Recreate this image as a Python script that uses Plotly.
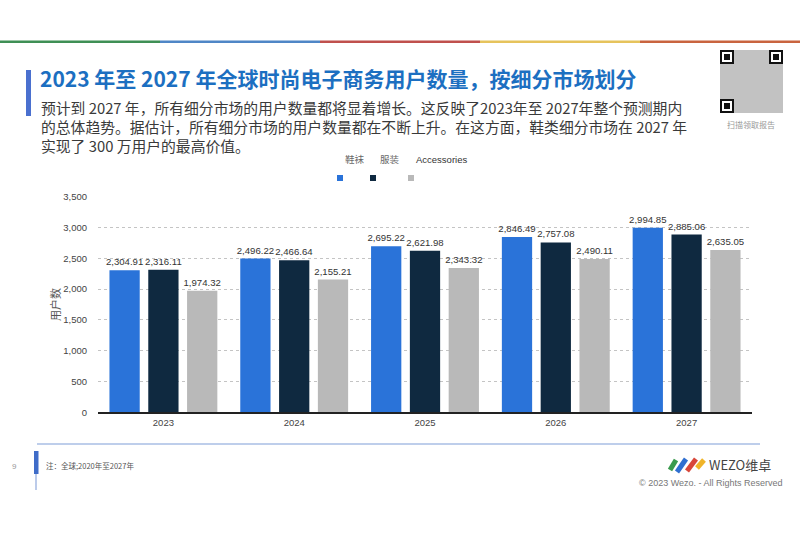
import plotly.graph_objects as go

# ---------------- data ----------------
years = ["2023", "2024", "2025", "2026", "2027"]
series_names = ["鞋袜", "服装", "Accessories"]
footwear = [2304.91, 2496.22, 2695.22, 2846.49, 2994.85]
apparel = [2316.11, 2466.64, 2621.98, 2757.08, 2885.06]
accessories = [1974.32, 2155.21, 2343.32, 2490.11, 2635.05]
series_values = [footwear, apparel, accessories]
series_colors = ["#2a73d9", "#0f2940", "#b9b9b9"]
y_ticks = [0, 500, 1000, 1500, 2000, 2500, 3000, 3500]

title_text = "2023 年至 2027 年全球时尚电子商务用户数量，按细分市场划分"
subtitle_lines = [
    "预计到 2027 年，所有细分市场的用户数量都将显着增长。这反映了2023年至 2027年整个预测期内",
    "的总体趋势。据估计，所有细分市场的用户数量都在不断上升。在这方面，鞋类细分市场在 2027 年",
    "实现了 300 万用户的最高价值。",
]
y_title = "用户数"
note_text = "注：全球;2020年至2027年"
page_no = "9"
copyright_text = "© 2023 Wezo. - All Rights Reserved"
qr_caption = "扫描领取报告"

W, H = 800, 533
def px(x):
    return x / W
def py(y):
    return 1 - y / H

FONT = "Liberation Sans, Arial, Noto Sans CJK SC, sans-serif"
CJK = "Noto Sans CJK SC, sans-serif"

fig = go.Figure()
for name, vals, col in zip(series_names, series_values, series_colors):
    fig.add_trace(go.Bar(
        name=name, x=years, y=vals, marker=dict(color=col, line=dict(width=0)),
        text=[f"{v:,.2f}" for v in vals], textposition="outside", constraintext="none",
        textfont=dict(size=9.6, color="#333333", family=FONT),
        cliponaxis=False, showlegend=False,
    ))

shapes = []
annotations = []

# top colour band
band_cols = ["#3f8f55", "#4f86c6", "#c0504d", "#e6c35c", "#c9643f"]
for i, c in enumerate(band_cols):
    shapes.append(dict(type="rect", xref="paper", yref="paper",
                       x0=px(i * 160), x1=px((i + 1) * 160), y0=py(43), y1=py(40.5),
                       fillcolor=c, line=dict(width=0), layer="above"))

# title accent bar
shapes.append(dict(type="rect", xref="paper", yref="paper", x0=px(26), x1=px(31),
                   y0=py(116), y1=py(70), fillcolor="#4a70cf", line=dict(width=0)))

annotations.append(dict(text="<b>" + title_text + "</b>", x=px(38), y=py(78), xref="paper", yref="paper",
                        xanchor="left", yanchor="middle", showarrow=False,
                        font=dict(size=21, color="#1c6fc1", family=CJK)))
for i, line in enumerate(subtitle_lines):
    annotations.append(dict(text=line, x=px(39), y=py(107 + i * 19.5), xref="paper", yref="paper",
                            xanchor="left", yanchor="middle", showarrow=False,
                            font=dict(size=14.8, color="#3a3a3a", family=CJK)))

# legend (text above, squares below)
leg_text_x = [355, 390, 441]
leg_mark_x = [340, 373, 411]
leg_text_col = ["#666666", "#666666", "#333333"]
for name, tx, mx, col, tc in zip(series_names, leg_text_x, leg_mark_x, series_colors, leg_text_col):
    annotations.append(dict(text=name, x=px(tx), y=py(159), xref="paper", yref="paper",
                            xanchor="center", yanchor="middle", showarrow=False,
                            font=dict(size=9.5, color=tc, family=FONT)))
    shapes.append(dict(type="rect", xref="paper", yref="paper", x0=px(mx - 3), x1=px(mx + 3),
                       y0=py(181), y1=py(175), fillcolor=col, line=dict(width=0)))

# y axis title
annotations.append(dict(text=y_title, x=px(55), y=py(305), xref="paper", yref="paper",
                        textangle=-90, showarrow=False, xanchor="center", yanchor="middle",
                        font=dict(size=11, color="#555555", family=CJK)))

# QR placeholder
qx0, qy0, qs = 720, 50, 63
shapes.append(dict(type="rect", xref="paper", yref="paper", x0=px(qx0), x1=px(qx0 + qs),
                   y0=py(qy0 + qs), y1=py(qy0), fillcolor="rgba(120,120,120,0.45)", line=dict(width=0)))
for fx, fy in [(qx0, qy0), (qx0 + qs - 14, qy0), (qx0, qy0 + qs - 14)]:
    shapes.append(dict(type="rect", xref="paper", yref="paper", x0=px(fx), x1=px(fx + 14),
                       y0=py(fy + 14), y1=py(fy), fillcolor="#111111", line=dict(width=0)))
    shapes.append(dict(type="rect", xref="paper", yref="paper", x0=px(fx + 2), x1=px(fx + 12),
                       y0=py(fy + 12), y1=py(fy + 2), fillcolor="#ffffff", line=dict(width=0)))
    shapes.append(dict(type="rect", xref="paper", yref="paper", x0=px(fx + 4), x1=px(fx + 10),
                       y0=py(fy + 10), y1=py(fy + 4), fillcolor="#111111", line=dict(width=0)))
annotations.append(dict(text=qr_caption, x=px(751), y=py(124), xref="paper", yref="paper",
                        showarrow=False, xanchor="center", yanchor="middle",
                        font=dict(size=8, color="#999999", family=CJK)))

# footer
shapes.append(dict(type="line", xref="paper", yref="paper", x0=px(37), x1=px(760), y0=py(444), y1=py(444),
                   line=dict(color="#7f9ed8", width=1.2)))
shapes.append(dict(type="line", xref="paper", yref="paper", x0=px(36), x1=px(36), y0=py(490), y1=py(470),
                   line=dict(color="#8fa8dc", width=1.2)))
shapes.append(dict(type="rect", xref="paper", yref="paper", x0=px(34), x1=px(38.5), y0=py(474), y1=py(451),
                   fillcolor="#3f6cc8", line=dict(width=0)))
annotations.append(dict(text=page_no, x=px(14), y=py(466), xref="paper", yref="paper", showarrow=False,
                        xanchor="center", yanchor="middle", font=dict(size=8, color="#999999", family=FONT)))
annotations.append(dict(text=note_text, x=px(44), y=py(465), xref="paper", yref="paper", showarrow=False,
                        xanchor="left", yanchor="middle", font=dict(size=7.5, color="#555555", family=CJK)))

# logo swoosh
logo_paths = [
    ("#3a9a4d", 670, 470, 676, 460),
    ("#2f6fd0", 677, 472, 686, 459),
    ("#d8473a", 687, 471, 696, 459),
    ("#f0b429", 697, 468, 704, 460),
]
for col, x0, y0, x1, y1 in logo_paths:
    shapes.append(dict(type="line", xref="paper", yref="paper", x0=px(x0), y0=py(y0), x1=px(x1), y1=py(y1),
                       line=dict(color=col, width=5)))
annotations.append(dict(text="WEZO维卓", x=px(707), y=py(464), xref="paper", yref="paper", showarrow=False,
                        xanchor="left", yanchor="middle", font=dict(size=13, color="#444444", family=CJK)))
annotations.append(dict(text=copyright_text, x=px(785), y=py(483), xref="paper", yref="paper", showarrow=False,
                        xanchor="right", yanchor="middle", font=dict(size=9, color="#777777", family=FONT)))

fig.update_layout(
    width=W, height=H, autosize=False,
    margin=dict(l=0, r=0, t=0, b=0),
    paper_bgcolor="white", plot_bgcolor="white",
    barmode="group", bargap=0.11, bargroupgap=0.22,
    shapes=shapes, annotations=annotations,
    font=dict(family=FONT, color="#444444"),
    xaxis=dict(domain=[px(98), px(752)], showline=True, linecolor="#222222", linewidth=2,
               showgrid=False, ticks="", tickfont=dict(size=9.5, color="#444444"), automargin=False,
               fixedrange=True),
    yaxis=dict(domain=[py(412.3), py(196.7)], range=[0, 3500], tickvals=y_ticks,
               tickformat=",", showgrid=True, gridcolor="#c4c4c4", griddash="dot", gridwidth=1,
               zeroline=False, showline=False, ticks="outside", ticklen=8, tickcolor="rgba(0,0,0,0)",
               tickfont=dict(size=9.5, color="#444444"), automargin=False, fixedrange=True),
)

fig.write_html("out.html")
